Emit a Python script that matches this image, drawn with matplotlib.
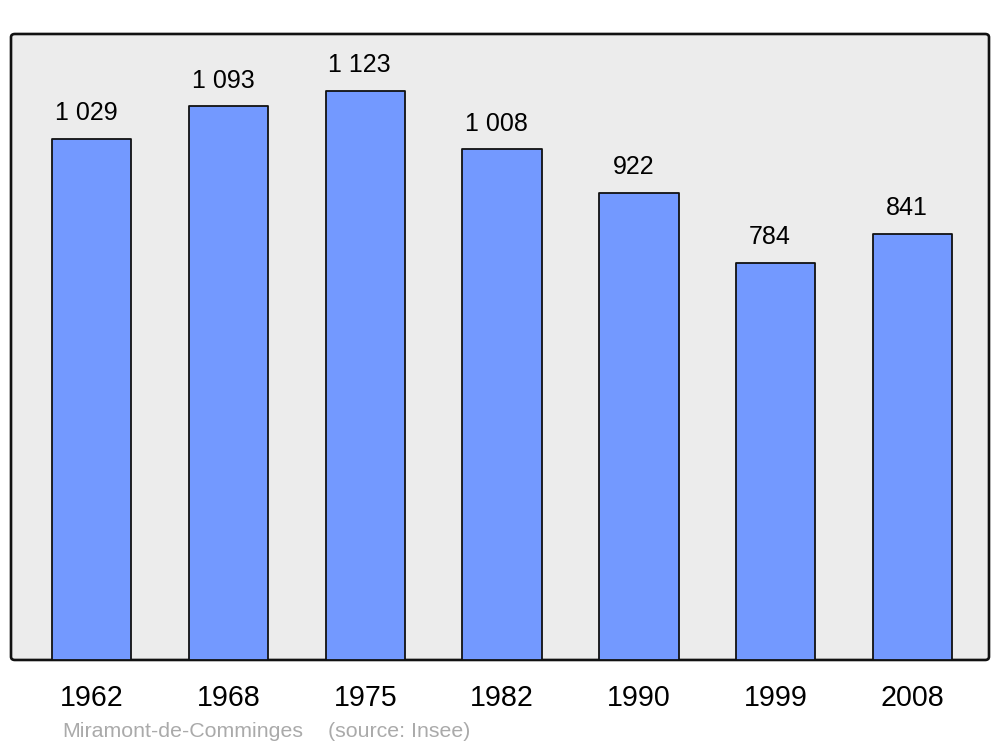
import matplotlib
matplotlib.use("Agg")
import matplotlib.pyplot as plt
from matplotlib.patches import FancyBboxPatch

years = ["1962", "1968", "1975", "1982", "1990", "1999", "2008"]
population = [1029, 1093, 1123, 1008, 922, 784, 841]
value_labels = ["1 029", "1 093", "1 123", "1 008", "922", "784", "841"]
commune = "Miramont-de-Comminges"
source = "(source: Insee)"

plt.rcParams['font.family'] = ['Liberation Sans', 'DejaVu Sans']

fig = plt.figure(figsize=(10, 7.47), dpi=100)
ax = fig.add_axes([0.011, 0.1165, 0.978, 0.838])
ax.set_facecolor('none')
for s in ax.spines.values():
    s.set_visible(False)

frame = FancyBboxPatch((0, 0), 1, 1, boxstyle="round,pad=0,rounding_size=0.004",
                       transform=ax.transAxes, facecolor='#ececec', edgecolor='#111111',
                       linewidth=1.9, zorder=0, clip_on=False, mutation_aspect=1.3)
ax.add_patch(frame)

x = list(range(len(years)))
bars = ax.bar(x, population, width=0.58, color='#7399ff', edgecolor='#111111',
              linewidth=1.3, zorder=2)
for b in bars:
    b.set_joinstyle('round')

for xi, v, lab in zip(x, population, value_labels):
    ax.annotate(lab, (xi, v), xytext=(-4, 10), textcoords='offset points',
                ha='center', va='bottom', fontsize=18, color='black')

ax.set_xlim(-0.59, 6.56)
ax.set_ylim(0, 1236)
ax.set_yticks([])
ax.set_xticks(x)
ax.set_xticklabels(years, fontsize=20.6)
ax.tick_params(axis='x', length=0, pad=17)

fig.text(0.062, 1 - 737 / 747, commune, fontsize=15.4, color='#aaaaaa', ha='left', va='baseline')
fig.text(0.328, 1 - 737 / 747, source, fontsize=15.4, color='#aaaaaa', ha='left', va='baseline')

fig.savefig("out.png", dpi=100)
